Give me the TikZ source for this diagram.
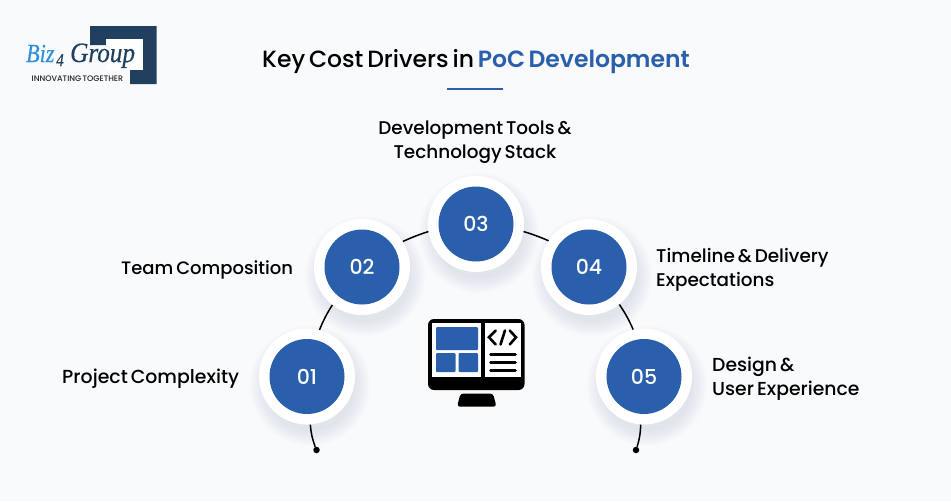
\documentclass[tikz,border=0pt]{standalone}
\usepackage{fontspec}
\setmainfont{Poppins}
\newfontfamily\popm[WordSpace=0.62]{Poppins Medium}
\newfontfamily\pops[WordSpace=0.62]{Poppins SemiBold}
\newfontfamily\logobiz[FakeStretch=0.85,FakeBold=0.2]{Liberation Serif}
\newfontfamily\logogrp[FakeStretch=0.9,FakeBold=0.4]{Liberation Serif}
\definecolor{bgc}{HTML}{F8FAFC}
\definecolor{blu}{HTML}{2A60AB}
\definecolor{navy}{HTML}{213F5E}
\definecolor{sky}{HTML}{2E8FDC}
\definecolor{shad}{HTML}{7F97B5}
\tikzset{
  outerdisc/.style={circle,fill=white,minimum size=96pt,inner sep=0pt},
  innerdisc/.style={circle,fill=blu,minimum size=75pt,inner sep=0pt,text=white,font=\popm\fontsize{20.5}{22}\selectfont},
  lab/.style={anchor=west,align=left,text=black,inner sep=0pt,font=\popm\fontsize{18.4}{24}\selectfont},
  conn/.style={black,line width=1.5pt},
  enddot/.style={circle,fill=black,minimum size=6.5pt,inner sep=0pt}
}
\newcommand{\softshadow}[2]{%
  \foreach \r in {46,48,...,60}{\fill[shad,opacity=0.022] (#1+3,#2+9) circle[radius=\r pt];}%
}
\begin{document}
\begin{tikzpicture}[x=1pt,y=-1pt]
\fill[bgc] (0,0) rectangle (951,501);
\useasboundingbox (0,0) rectangle (951,501);
% logo
\fill[navy] (90,26)--(156.5,26)--(156.5,84)--(130,84)--(130,70)--(143,70)--(143,39)--(106,39)--(106,45)--(90,45)--cycle;
\fill[white] (106,39) rectangle (143,70);
\node[anchor=base west,inner sep=0pt,text=sky,font=\logobiz\itshape\fontsize{26}{26}\selectfont] (lbiz) at (26,62) {Biz};
\node[anchor=base west,inner sep=0pt,text=navy,font=\logobiz\itshape\fontsize{18}{18}\selectfont] (l4) at (56,66) {4};
\node[anchor=base west,inner sep=0pt,text=navy,font=\logogrp\itshape\fontsize{28}{28}\selectfont] (lgroup) at (70,62) {Group};
\node[anchor=base west,inner sep=0pt,text=black!85,font=\popm\fontsize{8}{8}\selectfont] (ltag) at (31.5,81) {INNOVATING TOGETHER};
% title
\node[anchor=base west,inner sep=0pt,text=black,font=\popm\fontsize{23.5}{28}\selectfont] (title) at (262,67.5) {Key Cost Drivers in \textcolor{blu}{\pops PoC Development}};
\coordinate (ula) at (447,89);
\coordinate (ulb) at (503,89);
\draw[blu,line width=2pt] (ula)--(ulb);
% shadows
\softshadow{307}{376.5}
\softshadow{362}{267}
\softshadow{476}{224}
\softshadow{589}{267}
\softshadow{644}{376.5}
% discs
\foreach \n/\x/\y in {1/307/376.5,2/362/267,3/476/224,4/589/267,5/644/376.5}{
  \node[outerdisc] (o\n) at (\x,\y) {};
}
\node[innerdisc] (i1) at (o1) {01};
\node[innerdisc] (i2) at (o2) {02};
\node[innerdisc] (i3) at (o3) {03};
\node[innerdisc] (i4) at (o4) {04};
\node[innerdisc] (i5) at (o5) {05};
% connectors
\node[enddot] (d1) at (316.5,450) {};
\node[enddot] (d5) at (636,450) {};
\draw[conn] (o1.-86.5) to[bend right=8] (d1);
\draw[conn] (o5.-94.7) to[bend left=8] (d5);
\draw[conn] (o1.75) to[bend left=5] (o2.232);
\draw[conn] (o2.32) to[bend left=3] (o3.189.5);
\draw[conn] (o3.-9.5) to[bend left=3] (o4.147);
\draw[conn] (o4.-51.5) to[bend left=5] (o5.103);
% labels
\node[lab,font=\popm\fontsize{18.9}{24}\selectfont] (t1) at (62,378.5) {Project Complexity};
\node[lab,font=\popm\fontsize{18}{24}\selectfont] (t2) at (121,269.5) {Team Composition};
\node[lab,align=center,anchor=center] (t3) at (475,142) {Development Tools \&\\Technology Stack};
\node[lab] (t4) at (656,269.5) {Timeline \& Delivery\\Expectations};
\node[lab,font=\popm\fontsize{18.8}{24}\selectfont] (t5) at (712,379) {Design \&\\User Experience};
% monitor icon
\fill[black,rounded corners=6pt] (428,319) rectangle (524.5,390);
\fill[white] (431.5,323) rectangle (481,377);
\fill[white] (485,323) rectangle (521,377);
\fill[blu,rounded corners=1pt] (436,327) rectangle (478,350);
\fill[blu,rounded corners=1pt] (436,353) rectangle (455.5,372);
\fill[blu,rounded corners=1pt] (458.7,353) rectangle (478,372);
\fill[black,rounded corners=3pt] (460.5,393.5)--(493,393.5)--(496.5,406.7)--(457,406.7)--cycle;
\draw[black,line width=2.6pt,line cap=round] (495.7,330.5)--(489,337.3)--(495.7,344.5);
\draw[black,line width=2.6pt,line cap=round] (505,330.5)--(500.5,344.5);
\draw[black,line width=2.6pt,line cap=round] (509.7,330.5)--(516,337.3)--(509.7,344.5);
\draw[black,line width=2.5pt,line cap=round] (490.5,354.5)--(515.5,354.5);
\draw[black,line width=2.5pt,line cap=round] (490.5,362.5)--(515.5,362.5);
\draw[black,line width=2.5pt,line cap=round] (490.5,370.7)--(515.5,370.7);
\end{tikzpicture}
\end{document}
